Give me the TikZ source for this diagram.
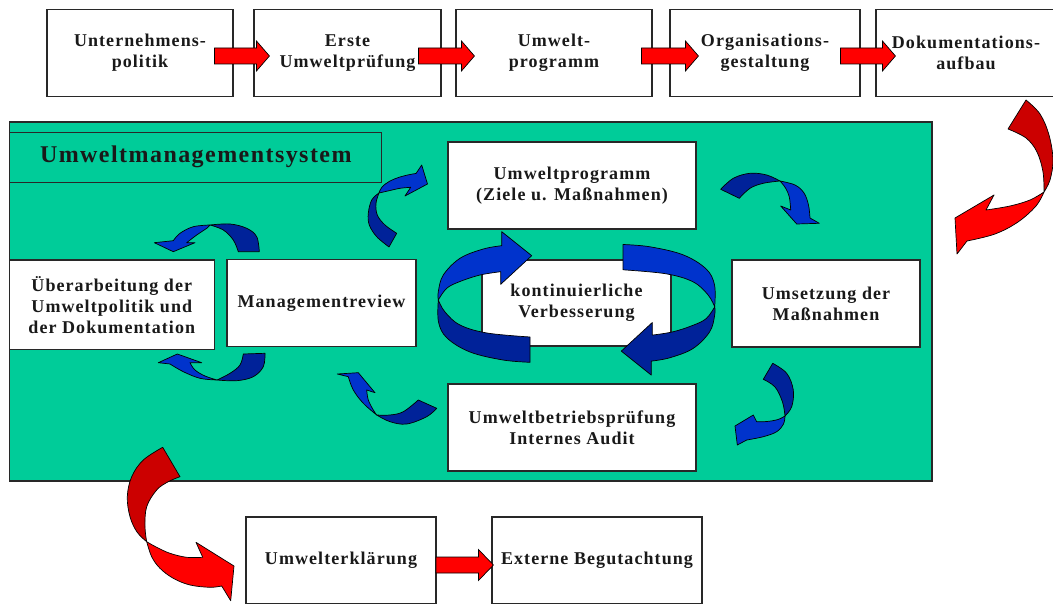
\documentclass[tikz,border=0pt]{standalone}
\usepackage{fontspec}
\setmainfont{Liberation Serif}
\newfontfamily\lspfont[LetterSpace=6]{Liberation Serif}
\usetikzlibrary{calc}
\definecolor{bgreen}{RGB}{0,204,153}
\definecolor{blueL}{RGB}{0,51,204}
\definecolor{blueD}{RGB}{0,34,153}
\definecolor{redL}{RGB}{255,0,0}
\definecolor{redD}{RGB}{204,0,0}
\definecolor{frame}{RGB}{40,40,40}
\tikzset{
  box/.style={draw=frame, line width=1.1pt, fill=white, inner sep=0pt, align=center,
    text=black!90, font=\lspfont\bfseries\fontsize{18}{21}\selectfont},
  titlebox/.style={draw=frame, line width=1.1pt, inner sep=0pt, align=center,
    text=black!90, font=\lspfont\bfseries\fontsize{24}{28}\selectfont},
  redarrow/.style={fill=redL, draw=black, line width=0.7pt, line join=miter},
  rL/.style={fill=redL, draw=black, line width=0.7pt, line join=round},
  rD/.style={fill=redD, draw=black, line width=0.7pt, line join=round},
  bL/.style={fill=blueL, draw=black, line width=0.7pt, line join=round},
  bD/.style={fill=blueD, draw=black, line width=0.7pt, line join=round},
  sm/.style={smooth, tension=0.6}
}
\newcommand\blockarr[4]{% start, tip, head length, head half width
  \path[redarrow] ($(#1)+(0,-8)$) -- ($(#2)+(-#3,-8)$) -- ($(#2)+(-#3,-#4)$) -- (#2)
    -- ($(#2)+(-#3,#4)$) -- ($(#2)+(-#3,8)$) -- ($(#1)+(0,8)$) -- cycle;}
\begin{document}
\begin{tikzpicture}[x=1pt, y=-1pt]
\useasboundingbox (0,0) rectangle (1053,604);
\begin{scope}
\clip (0,0) rectangle (1053,604);
% ---------- top row ----------
\node[box, minimum width=186, minimum height=87] (n1) at (140,53) {Unternehmens-\\politik};
\node[box, minimum width=187, minimum height=87] (n2) at (347.5,53) {Erste\\Umweltprüfung};
\node[box, minimum width=196, minimum height=87] (n3) at (554,53) {Umwelt-\\programm};
\node[box, minimum width=190, minimum height=87] (n4) at (765,53) {Organisations-\\gestaltung};
\node[box, minimum width=180, minimum height=87] (n5) at (966,53) {Dokumentations-\\aufbau};
\coordinate (s1) at ($(n1.east)+(-19,3)$); \coordinate (t1) at ($(n2.west)+(16,3)$);
\coordinate (s2) at ($(n2.east)+(-23,3)$); \coordinate (t2) at ($(n3.west)+(19,3)$);
\coordinate (s3) at ($(n3.east)+(-11,3)$); \coordinate (t3) at ($(n4.west)+(29,3)$);
\coordinate (s4) at ($(n4.east)+(-20,3)$); \coordinate (t4) at ($(n5.west)+(20,3)$);
\blockarr{s1}{t1}{13}{15}
\blockarr{s2}{t2}{13}{15}
\blockarr{s3}{t3}{13}{15}
\blockarr{s4}{t4}{13}{15}

% ---------- environmental management system ----------
\draw[draw=frame, line width=1.1pt, fill=bgreen] (9.5,122) rectangle (932,481);
\node[titlebox, minimum width=372, minimum height=50] (ttl) at (195.8,157.2) {Umweltmanagementsystem};

\node[box, minimum width=248, minimum height=87] (up) at (572,185.5) {Umweltprogramm\\(Ziele u. Maßnahmen)};
\node[box, minimum width=189, minimum height=86] (kv) at (576.5,303) {kontinuierliche\\Verbesserung};
\node[box, minimum width=189, minimum height=86.5] (mr) at (321.5,303.2) {Managementreview};
\node[box, minimum width=204.5, minimum height=89.5] (ue) at (111.8,304.8) {Überarbeitung der\\Umweltpolitik und\\der Dokumentation};
\node[box, minimum width=188, minimum height=87] (us) at (826,303.5) {Umsetzung der\\Maßnahmen};
\node[box, minimum width=248, minimum height=87] (ub) at (572,427.5) {Umweltbetriebsprüfung\\Internes Audit};

% ---------- central cycle ----------
\path[bD] plot[sm] coordinates {(530,337) (487,333) (460,325) (445,312) (438.3,300)}
  -- plot[sm] coordinates {(438.3,300) (438.5,322) (447,338) (470,352) (503,360) (530,362.3)} -- cycle;
\path[bL] plot[sm] coordinates {(438.3,300) (438.3,291.7) (443.3,275) (460,258.3) (483.3,249) (501.7,245.7)}
  -- (501.7,231.7) -- (531.7,255.7) -- (500.7,284.3) -- (500.7,271.7)
  -- plot[sm] coordinates {(500.7,271.7) (480,275) (460,281.5) (446.7,288.3) (438.3,300)} -- cycle;
\begin{scope}[rotate around={180:(576.5,303.4)}]
\path[bL] plot[sm] coordinates {(530,337) (487,333) (460,325) (445,312) (438.3,300)}
  -- plot[sm] coordinates {(438.3,300) (438.5,322) (447,338) (470,352) (503,360) (530,362.3)} -- cycle;
\path[bD] plot[sm] coordinates {(438.3,300) (438.3,291.7) (443.3,275) (460,258.3) (483.3,249) (501.7,245.7)}
  -- (501.7,231.7) -- (531.7,255.7) -- (500.7,284.3) -- (500.7,271.7)
  -- plot[sm] coordinates {(500.7,271.7) (480,275) (460,281.5) (446.7,288.3) (438.3,300)} -- cycle;
\end{scope}

% ---------- small blue curved arrows ----------
% C: Managementreview -> Umweltprogramm
\path[bD] plot[sm] coordinates {(389,247) (376.7,236.7) (369.3,225) (368.3,213.3) (371.7,200) (379,193)}
  -- plot[sm] coordinates {(379,193) (376,203.3) (377.3,215) (385,225) (396.7,233.3)} -- cycle;
\path[bL] plot[sm] coordinates {(379,193) (382,187) (390,181) (400,177) (410,174.5) (416,173.5)}
  -- (421.7,165) -- (427.5,184) -- (405,196) -- (410.7,187.3)
  -- plot[sm] coordinates {(410.7,187.3) (400,188.3) (390,190.5) (379,193)} -- cycle;
% D: Umweltprogramm -> Umsetzung
\path[bD] plot[sm] coordinates {(720.7,189.3) (733.3,178.3) (750,173.3) (766.7,175) (780,181)}
  -- plot[sm] coordinates {(780,181) (763.3,183.3) (750,188.3) (739.3,198.3)} -- cycle;
\path[bL] plot[sm] coordinates {(780,181) (795,185) (804,193) (808.5,205) (810,218)}
  -- (819.3,223.3) -- (796.7,224) -- (780.7,206) -- (790.7,210)
  -- plot[sm] coordinates {(790.7,210) (789.3,197) (785.5,188) (780,181)} -- cycle;
% E: Umsetzung -> Audit
\path[bD] plot[sm] coordinates {(772.7,363.3) (786.7,373.3) (793.3,390) (791.7,406.7) (785,416)}
  -- plot[sm] coordinates {(785,416) (782.5,402) (775,387) (763.3,379.3)} -- cycle;
\path[bL] plot[sm] coordinates {(785,416) (783.5,424) (776.7,431.7) (763.3,436.7) (746.7,440)}
  -- (737.3,445) -- (735,426) -- (753.3,415) -- (756.7,421.7)
  -- plot[sm] coordinates {(756.7,421.7) (767,421.5) (778,419.5) (785,416)} -- cycle;
% F: Audit -> Managementreview
\path[bD] plot[sm] coordinates {(436.7,408.3) (426.7,416.7) (406.7,424) (390,421.7) (376.7,415)}
  -- plot[sm] coordinates {(376.7,415) (390,415) (403.3,411.7) (418.3,400)} -- cycle;
\path[bL] plot[sm] coordinates {(376.7,415) (363.3,403.3) (353.3,390) (348.3,376.7)}
  -- (337.3,374) -- (358.3,372.7) -- (375,392.7) -- (366.7,390)
  -- plot[sm] coordinates {(366.7,390) (368.3,400) (373.3,410) (376.7,415)} -- cycle;
% G: Managementreview -> Ueberarbeitung (bottom)
\path[bD] plot[sm] coordinates {(265,353.3) (263.3,366.7) (253.3,376.7) (236.7,380.7) (217,380)}
  -- plot[sm] coordinates {(217,380) (230,373.3) (240,365) (243.3,354)} -- cycle;
\path[bL] plot[sm] coordinates {(217,380) (200,378.3) (183.3,371.7) (170,364)}
  -- (158.3,362.7) -- (177.3,354) -- (201.7,362.7) -- (190,362.7)
  -- plot[sm] coordinates {(190,362.7) (195,370) (205,376) (217,380)} -- cycle;
% H: Ueberarbeitung -> Managementreview (top)
\path[bD] plot[sm] coordinates {(259.3,251.7) (256.7,236.7) (246.7,228.3) (230,224) (210,225)}
  -- plot[sm] coordinates {(210,225) (223.3,230) (233.3,240) (238.3,251.7)} -- cycle;
\path[bL] plot[sm] coordinates {(210,225) (193.3,226.7) (180,233.3) (173.3,240.7)}
  -- (154.3,242.7) -- (173.3,251.7) -- (195,242.7) -- (186.7,242.7)
  -- plot[sm] coordinates {(186.7,242.7) (196.7,235) (206.7,228.3) (210,225)} -- cycle;

% ---------- big red curved arrows ----------
% A: Dokumentationsaufbau -> system
\path[rD] plot[sm] coordinates {(1026,100) (1040,114) (1049,135) (1053,160) (1050,180) (1044,192)}
  -- plot[sm] coordinates {(1044,192) (1043,172) (1037,152) (1026,138) (1008,129)} -- cycle;
\path[rL] plot[sm] coordinates {(1044,192) (1036,206) (1018,222) (995,234) (967,241)}
  -- (957,254) -- (955,218) -- (994,195) -- (986,210)
  -- plot[sm] coordinates {(986,210) (1010,206) (1030,200) (1044,192)} -- cycle;
% B: system -> Umwelterklaerung
\path[rD] plot[sm] coordinates {(162.7,447.3) (143.3,460) (131.7,476.7) (127.3,496.7) (130,516.7) (137,532) (146.7,541.7)}
  -- plot[sm] coordinates {(146.7,541.7) (145,526.7) (146.7,506.7) (156.7,490) (168.3,481.7) (180,476.7)} -- cycle;
\path[rL] plot[sm] coordinates {(146.7,541.7) (151.7,556.7) (160,568.3) (173.3,578.3) (190,585) (210,587.3) (221.7,586)}
  -- (230.7,600.7) -- (234,566) -- (196,542.3) -- (202.7,557.3)
  -- plot[sm] coordinates {(202.7,557.3) (186.7,557.3) (170,553.3) (156.7,547.3) (146.7,541.7)} -- cycle;

% ---------- bottom row ----------
\node[box, minimum width=190, minimum height=86.5] (uk) at (341,560.2) {Umwelterklärung};
\node[box, minimum width=210, minimum height=86.5] (eb) at (597,560.2) {Externe Begutachtung};
\coordinate (s5) at ($(uk.east)+(-0.5,4.8)$); \coordinate (t5) at ($(eb.west)+(2,4.8)$);
\blockarr{s5}{t5}{15}{15.5}
\end{scope}
\end{tikzpicture}
\end{document}
